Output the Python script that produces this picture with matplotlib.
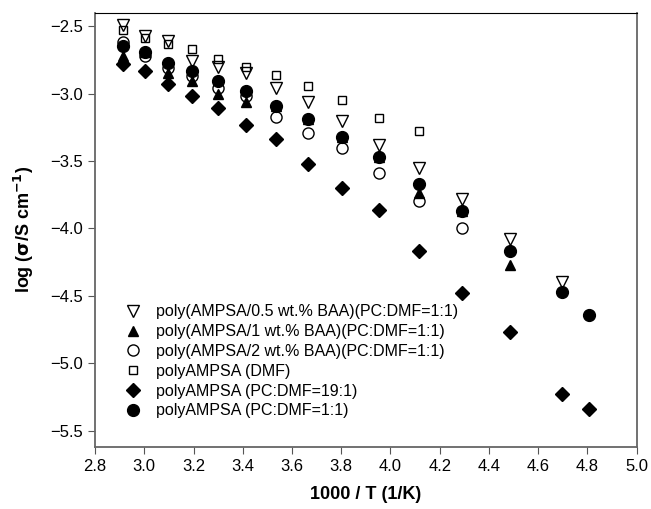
import matplotlib
matplotlib.use("Agg")
import matplotlib.pyplot as plt

plt.rcParams["font.family"] = ["Liberation Sans", "DejaVu Sans"]

# 1000/T for 70 C down to -65 C
inv_t = [2.915, 3.003, 3.096, 3.195, 3.300, 3.413, 3.534, 3.663, 3.802,
         3.953, 4.115, 4.292, 4.484, 4.695, 4.808]

baa05 = [-2.49, -2.57, -2.61, -2.76, -2.80, -2.85, -2.96, -3.06, -3.20,
         -3.38, -3.55, -3.78, -4.08, -4.40]
baa1 = [-2.72, -2.69, -2.85, -2.91, -3.00, -3.06, -3.09, -3.19, -3.32,
        -3.47, -3.74, -3.87, -4.27]
baa2 = [-2.62, -2.72, -2.81, -2.87, -2.96, -3.02, -3.17, -3.29, -3.40,
        -3.59, -3.80, -4.00]
dmf = [-2.53, -2.59, -2.63, -2.67, -2.74, -2.80, -2.86, -2.94, -3.05,
       -3.18, -3.28]
pc19 = [-2.78, -2.83, -2.93, -3.02, -3.11, -3.23, -3.34, -3.52, -3.70,
        -3.86, -4.17, -4.48, -4.77, -5.23, -5.34]
pc11 = [-2.65, -2.69, -2.77, -2.83, -2.91, -2.98, -3.09, -3.19, -3.32,
        -3.47, -3.67, -3.87, -4.17, -4.47, -4.64]

labels = [
    "poly(AMPSA/0.5 wt.% BAA)(PC:DMF=1:1)",
    "poly(AMPSA/1 wt.% BAA)(PC:DMF=1:1)",
    "poly(AMPSA/2 wt.% BAA)(PC:DMF=1:1)",
    "polyAMPSA (DMF)",
    "polyAMPSA (PC:DMF=19:1)",
    "polyAMPSA (PC:DMF=1:1)",
]

fig = plt.figure(figsize=(6.51, 5.09), dpi=100)
ax = fig.add_axes([0.146, 0.122, 0.832, 0.853])

series = [
    (baa05, "v", "none", 9),
    (baa1, "^", "black", 7),
    (baa2, "o", "none", 8),
    (dmf, "s", "none", 6),
    (pc19, "D", "black", 7),
    (pc11, "o", "black", 8.5),
]
for (vals, m, fc, ms), lab in zip(series, labels):
    ax.plot(inv_t[:len(vals)], vals, linestyle="none", marker=m,
            markerfacecolor=fc, markeredgecolor="black", markersize=ms,
            markeredgewidth=1.0, label=lab)

ax.set_xlim(2.8, 5.0)
ax.set_ylim(-5.62, -2.40)
ax.set_xticks([2.8 + 0.2 * i for i in range(12)])
ax.set_yticks([-2.5, -3.0, -3.5, -4.0, -4.5, -5.0, -5.5])
ax.tick_params(direction="out", length=5, labelsize=12, color="#555555")

for side in ["left", "bottom", "right"]:
    ax.spines[side].set_color("#666666")
    ax.spines[side].set_linewidth(1.3)
ax.spines["top"].set_color("black")

ax.set_xlabel("1000 / T (1/K)", fontsize=13, fontweight="bold", labelpad=9)
ax.set_ylabel("log ($\\mathbf{\\sigma}$/S cm$^{\\mathbf{-1}}$)", fontsize=13,
              fontweight="bold", labelpad=10)

leg = ax.legend(loc="lower left", bbox_to_anchor=(0.05, 0.06),
                fontsize=11.5, frameon=True, framealpha=1.0,
                edgecolor="none", facecolor="white", handlelength=1.0,
                handletextpad=1.0, labelspacing=0.3, borderpad=0.15,
                borderaxespad=0.0)
leg.set_zorder(5)

fig.savefig("out.png", dpi=100)
